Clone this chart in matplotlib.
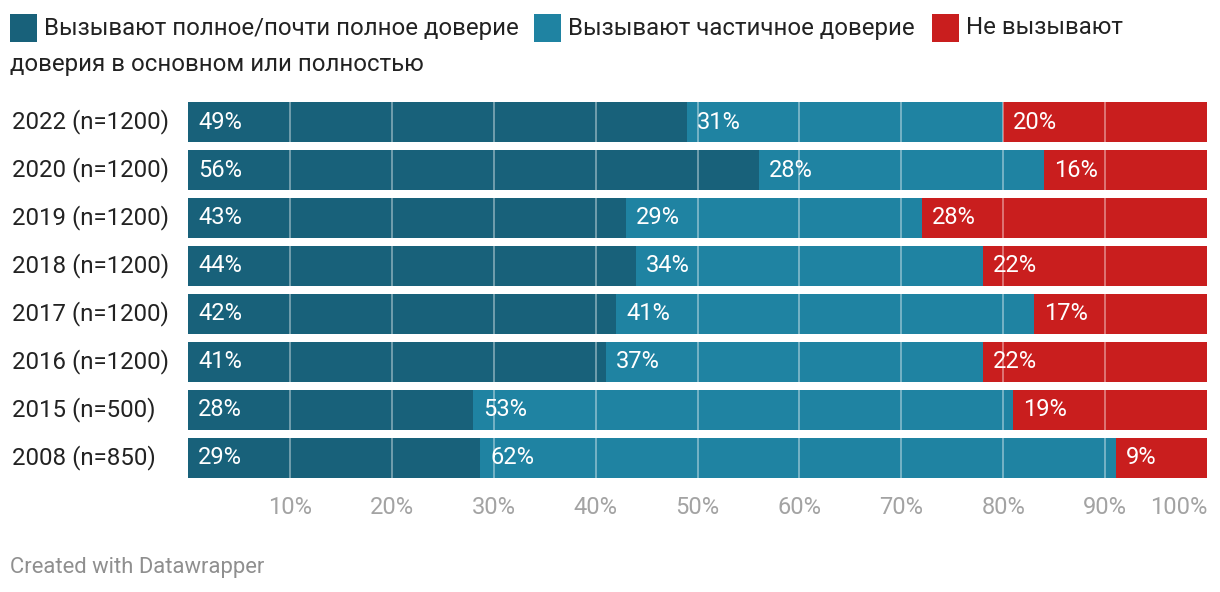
import matplotlib.pyplot as plt
from matplotlib.patches import Rectangle
from matplotlib.transforms import blended_transform_factory

plt.rcParams['font.family'] = ['Roboto', 'DejaVu Sans']

# данные
years = ['2022 (n=1200)', '2020 (n=1200)', '2019 (n=1200)', '2018 (n=1200)',
         '2017 (n=1200)', '2016 (n=1200)', '2015 (n=500)', '2008 (n=850)']
full_trust = [49, 56, 43, 44, 42, 41, 28, 28.7]
partial_trust = [31, 28, 29, 34, 41, 37, 53, 62.4]
no_trust = [20, 16, 28, 22, 17, 22, 19, 8.9]
lbl_full = ['49%', '56%', '43%', '44%', '42%', '41%', '28%', '29%']
lbl_partial = ['31%', '28%', '29%', '34%', '41%', '37%', '53%', '62%']
lbl_no = ['20%', '16%', '28%', '22%', '17%', '22%', '19%', '9%']
series_names = ['Вызывают полное/почти полное доверие', 'Вызывают частичное доверие', 'Не вызывают']
ticks = [10, 20, 30, 40, 50, 60, 70, 80, 90, 100]

c_dark = '#18617a'
c_light = '#1f83a2'
c_red = '#c91e1e'

W, H = 1220, 592
fig = plt.figure(figsize=(W / 100, H / 100), dpi=100)
ax = fig.add_axes([188 / W, 1 - 478 / H, (1207 - 188) / W, (478 - 102) / H])

h = 40 / 48
ypos = list(range(len(years)))
left2 = [a for a in full_trust]
left3 = [a + b for a, b in zip(full_trust, partial_trust)]
ax.barh(ypos, full_trust, height=h, color=c_dark, zorder=1)
ax.barh(ypos, partial_trust, left=left2, height=h, color=c_light, zorder=1)
ax.barh(ypos, no_trust, left=left3, height=h, color=c_red, zorder=1)

# подписи значений
pad = 10 / (1019 / 100)
for i in ypos:
    ax.text(0 + pad, i, lbl_full[i], color='white', fontsize=17, va='center', zorder=3)
    ax.text(left2[i] + pad, i, lbl_partial[i], color='white', fontsize=17, va='center', zorder=3)
    ax.text(left3[i] + pad, i, lbl_no[i], color='white', fontsize=17, va='center', zorder=3)

# сетка поверх столбцов
for t in ticks[:-1]:
    ax.axvline(t, color='white', alpha=0.45, lw=1.2, zorder=2)

ax.set_xlim(0, 100)
ax.set_ylim(len(years) - 1 + h / 2, -h / 2)
ax.set_yticks([])
ax.set_xticks(ticks)
ax.set_xticklabels([f'{t}%' for t in ticks], fontsize=17, color='#a3a3a3')
ax.get_xticklabels()[-1].set_ha('right')
ax.tick_params(axis='x', length=0, pad=13)
for s in ax.spines.values():
    s.set_visible(False)

# подписи годов
tr = blended_transform_factory(fig.transFigure, ax.transData)
for i, y in enumerate(years):
    ax.text(12 / W, i, y, transform=tr, fontsize=17.3, color='#222222', va='center', ha='left')

# легенда
cols = [c_dark, c_light, c_red]
xs = [10, 534, 932]
for x, c, name in zip(xs, cols, series_names):
    fig.patches.append(Rectangle((x / W, 1 - 42 / H), 27 / W, 28 / H, transform=fig.transFigure,
                                 facecolor=c, edgecolor='none'))
    fig.text((x + 34) / W, 1 - 28 / H, name, fontsize=17.3, color='#222222', va='center')
fig.text(10 / W, 1 - 64 / H, 'доверия в основном или полностью', fontsize=17.3, color='#222222', va='center')

fig.text(10 / W, 1 - 567 / H, 'Created with Datawrapper', fontsize=15.8, color='#8f8f8f', va='center')

fig.savefig('out.png', dpi=100)
